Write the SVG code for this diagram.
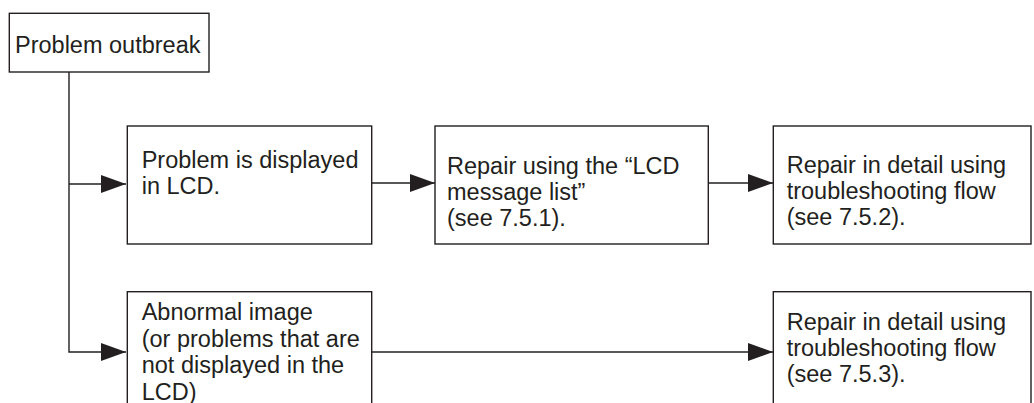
<svg xmlns="http://www.w3.org/2000/svg" width="1034" height="403" viewBox="0 0 1034 403">
<style>
.box{fill:#fff;stroke:#231f20;stroke-width:1.4}
.t{font-family:"Liberation Sans",Arial,sans-serif;font-size:23.5px;fill:#231f20}
.c{fill:none;stroke:#231f20;stroke-width:1.4}
</style>
<defs>
<marker id="ah" markerUnits="userSpaceOnUse" markerWidth="26" markerHeight="20" refX="25" refY="9" orient="auto">
<path d="M0,0 L25,9 L0,18 Z" fill="#231f20"/>
</marker>
</defs>
<rect width="1034" height="403" fill="#fff"/>
<g id="connectors">
<path class="c" d="M69,72 V352 H126" marker-end="url(#ah)"/>
<path class="c" d="M69,184 H126" marker-end="url(#ah)"/>
<path class="c" d="M372,183 H435" marker-end="url(#ah)"/>
<path class="c" d="M708,183 H773" marker-end="url(#ah)"/>
<path class="c" d="M372,352 H773" marker-end="url(#ah)"/>
</g>
<g id="n1">
<rect class="box" x="9.3" y="13.3" width="199.7" height="58.7"/>
<text class="t" x="15" y="53">Problem outbreak</text>
</g>
<g id="n2">
<rect class="box" x="127.3" y="126" width="244.4" height="118"/>
<text class="t" x="141.7" y="168">Problem is displayed</text>
<text class="t" x="141.7" y="194">in LCD.</text>
</g>
<g id="n3">
<rect class="box" x="435" y="126" width="273.3" height="118"/>
<text class="t" x="447" y="174">Repair using the “LCD</text>
<text class="t" x="447" y="200">message list”</text>
<text class="t" x="447" y="226">(see 7.5.1).</text>
</g>
<g id="n4">
<rect class="box" x="773.3" y="126" width="257.7" height="118"/>
<text class="t" x="786.7" y="173">Repair in detail using</text>
<text class="t" x="786.7" y="199">troubleshooting flow</text>
<text class="t" x="786.7" y="225">(see 7.5.2).</text>
</g>
<g id="n5">
<rect class="box" x="127.3" y="291.7" width="244.4" height="130"/>
<text class="t" x="141.7" y="320">Abnormal image</text>
<text class="t" x="141.7" y="346.5">(or problems that are</text>
<text class="t" x="141.7" y="373">not displayed in the</text>
<text class="t" x="141.7" y="399.5">LCD)</text>
</g>
<g id="n6">
<rect class="box" x="773.3" y="291.7" width="257.7" height="130"/>
<text class="t" x="786.7" y="330">Repair in detail using</text>
<text class="t" x="786.7" y="356">troubleshooting flow</text>
<text class="t" x="786.7" y="382">(see 7.5.3).</text>
</g>
</svg>
